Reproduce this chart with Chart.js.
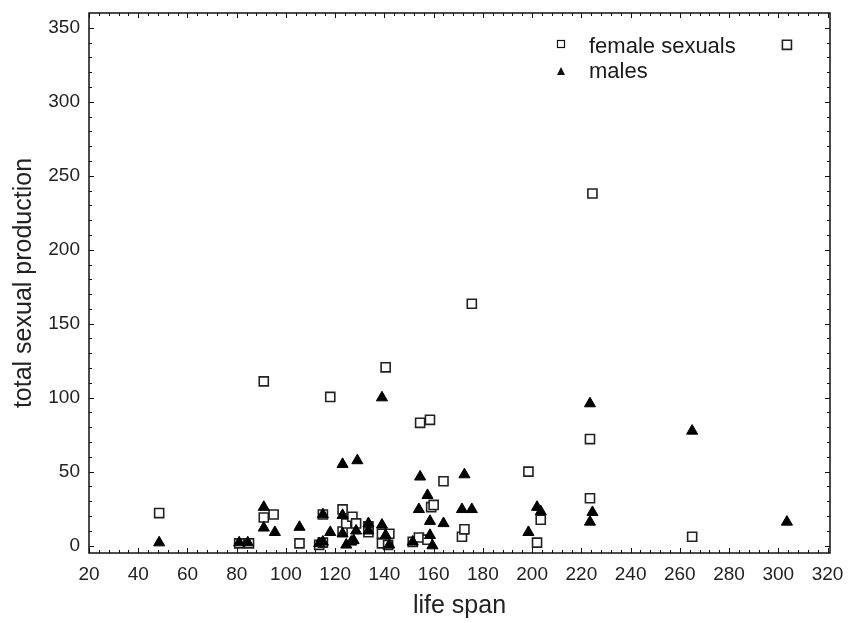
<!DOCTYPE html>
<html>
<head>
<meta charset="utf-8">
<script src="https://cdn.jsdelivr.net/npm/chart.js@4/dist/chart.umd.min.js"></script>
<style>
    body { margin: 0; background: #fff; }
    #wrap { width: 848px; height: 623px; }
</style>
</head>
<body>
<div id="wrap"><canvas id="test"></canvas></div>
<script>
// values
const femaleX = [48.5, 81, 85, 91, 91, 95, 105.5, 113.5, 115, 115, 118, 123, 123, 124.5, 127, 128.5, 133.5, 133.5, 139, 139,
    140.5, 142, 141.5, 151.5, 154.5, 158.5, 154, 157.5, 159, 160, 164, 171.5, 172.5, 175.5, 198.5, 202, 203.5, 223.5, 223.5, 224.5, 265, 303.5];
const femaleY = [22, 1.5, 1.5, 111, 19, 21, 1.5, 0.5, 2, 21, 100.5, 24.5, 9.5, 15, 19.5, 15, 13, 9, 8, 1.5,
    120.5, 8, 0.5, 2.5, 83, 85, 5.5, 4, 26, 27.5, 43.5, 6, 11, 163.5, 50, 2, 17.5, 72, 32, 238, 6, 338.5];
const maleX = [48.5, 81, 84.5, 91, 91, 95.5, 105.5, 113.5, 115, 115, 118, 123, 123, 129, 123, 128.5, 124.5, 126.5, 127.5, 133.5,
    133.5, 139, 139, 140.5, 142, 151.5, 154.5, 157.5, 154, 158.5, 158.5, 159.5, 164, 171.5, 172.5, 175.5, 198.5, 202, 203.5, 223.5,
    224.5, 223.5, 265, 303.5];
const maleY = [2, 2, 2, 26, 12, 9, 12.5, 1.5, 2.5, 21, 9, 20.5, 55, 57.5, 8, 10, 0.5, 2.5, 3.5, 15,
    10, 100, 14, 7, 0.5, 2.5, 46.5, 34, 24.5, 16.5, 7, 0, 15, 24.5, 48, 24.5, 9, 26, 23, 96,
    22.5, 16, 77.5, 16];
const xTicks = [20, 40, 60, 80, 100, 120, 140, 160, 180, 200, 220, 240, 260, 280, 300, 320];
const yTicks = [0, 50, 100, 150, 200, 250, 300, 350];
const seriesNames = ['female sexuals', 'males'];

function toPoints(xs, ys) {
    return xs.map(function (x, i) { return {x: x, y: ys[i]}; });
}

// frame with inward ticks on all four sides, like the original
const frameTicks = {
    id: 'frameTicks',
    afterDatasetsDraw: function (chart) {
        const ctx = chart.ctx;
        const a = chart.chartArea;
        const xs = chart.scales.x;
        const ys = chart.scales.y;
        ctx.save();
        ctx.strokeStyle = '#111';
        ctx.lineWidth = 1;
        ctx.beginPath();
        for (let v = 20; v <= 320; v += 4) {
            const px = Math.round(xs.getPixelForValue(v)) + 0.5;
            const len = v % 20 === 0 ? 5 : 3;
            ctx.moveTo(px, a.bottom); ctx.lineTo(px, a.bottom - len);
            ctx.moveTo(px, a.top); ctx.lineTo(px, a.top + len);
        }
        for (let v = 0; v <= 350; v += 10) {
            const py = Math.round(ys.getPixelForValue(v)) + 0.5;
            const len = v % 50 === 0 ? 5 : 3;
            ctx.moveTo(a.left, py); ctx.lineTo(a.left + len, py);
            ctx.moveTo(a.right, py); ctx.lineTo(a.right - len, py);
        }
        ctx.stroke();
        ctx.lineWidth = 1.5;
        ctx.strokeRect(a.left, a.top, a.right - a.left, a.bottom - a.top);
        ctx.restore();
    }
};

// legend sits inside the plot, top middle
const innerLegend = {
    id: 'innerLegend',
    afterDraw: function (chart) {
        const ctx = chart.ctx;
        ctx.save();
        ctx.fillStyle = '#111';
        ctx.strokeStyle = '#111';
        ctx.lineWidth = 1.2;
        ctx.strokeRect(557.5, 40.5, 7, 7);
        ctx.beginPath();
        ctx.moveTo(561, 67); ctx.lineTo(565, 75); ctx.lineTo(557, 75);
        ctx.closePath();
        ctx.fill();
        ctx.font = '22px "Liberation Sans", Arial, sans-serif';
        ctx.fillStyle = '#1a1a1a';
        ctx.textBaseline = 'alphabetic';
        ctx.fillText(seriesNames[0], 589, 53);
        ctx.fillText(seriesNames[1], 589, 78);
        ctx.restore();
    }
};

const data = {
    datasets: [{
        label: seriesNames[0],
        data: toPoints(femaleX, femaleY),
        pointStyle: 'rect',
        pointRadius: 6.4,
        backgroundColor: '#fff',
        borderColor: '#222',
        borderWidth: 1.6,
        order: 1
    }, {
        label: seriesNames[1],
        data: toPoints(maleX, maleY),
        pointStyle: 'triangle',
        pointRadius: 6.4,
        backgroundColor: '#000',
        borderColor: '#000',
        borderWidth: 1,
        order: 0
    }]
};

const tickFont = {family: '"Liberation Sans", Arial, sans-serif', size: 19};
const titleFont = {family: '"Liberation Sans", Arial, sans-serif', size: 25};

var ctx = document.getElementById('test').getContext('2d');
var chart = new Chart(ctx, {
    type: 'scatter',
    data: data,
    options: {
        responsive: true,
        maintainAspectRatio: false,
        animation: false,
        devicePixelRatio: 1,
        layout: {padding: {top: 13, right: 18, left: 0, bottom: 0}},
        plugins: {
            legend: {display: false},
            tooltip: {enabled: false}
        },
        scales: {
            x: {
                type: 'linear',
                min: 20,
                max: 321,
                grid: {display: false, drawTicks: false},
                border: {display: false},
                afterBuildTicks: function (scale) {
                    scale.ticks = xTicks.map(function (v) { return {value: v}; });
                },
                afterFit: function (scale) {
                    scale.height = 70;
                    scale.paddingLeft = 0;
                    scale.paddingRight = 0;
                },
                ticks: {color: '#222', font: tickFont, padding: 10, maxRotation: 0, autoSkip: false},
                title: {display: true, text: 'life span', color: '#222', font: titleFont, padding: {top: 0, bottom: 2}}
            },
            y: {
                type: 'linear',
                min: -5,
                max: 360,
                grid: {display: false, drawTicks: false},
                border: {display: false},
                afterBuildTicks: function (scale) {
                    scale.ticks = yTicks.map(function (v) { return {value: v}; });
                },
                afterFit: function (scale) {
                    scale.width = 89;
                    scale.paddingTop = 0;
                    scale.paddingBottom = 0;
                },
                ticks: {color: '#222', font: tickFont, padding: 9},
                title: {display: true, text: 'total sexual production', color: '#222', font: titleFont, padding: {top: 9, bottom: 0}}
            }
        }
    },
    plugins: [frameTicks, innerLegend]
});
</script>
</body>
</html>
